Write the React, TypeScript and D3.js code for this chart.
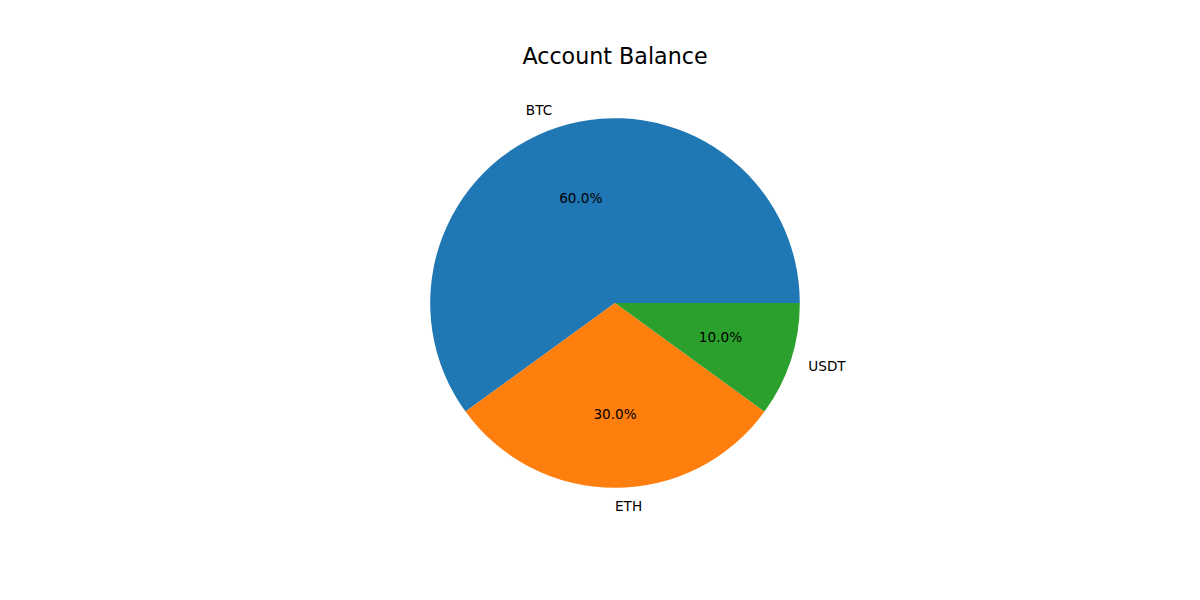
import React, { useEffect, useRef } from 'react';
import * as d3 from 'd3';

// pie data
const labels = ['BTC', 'ETH', 'USDT'];
const values = [60, 30, 10];
const colors = ['#1f77b4', '#ff7f0e', '#2ca02c'];

const App: React.FC = () => {
  const svgRef = useRef<SVGSVGElement>(null);

  useEffect(() => {
    if (!svgRef.current) return;
    document.body.style.margin = '0';

    const svg = d3.select(svgRef.current);
    svg.selectAll('*').remove();

    const width = 1200;
    const height = 600;
    // matplotlib-like axes box: top 72, bottom 534
    const cx = 615;
    const cy = 303;
    const radius = 184.8;
    const font = 'DejaVu Sans, sans-serif';

    const total = d3.sum(values);
    const data = labels.map((l, i) => ({ label: l, value: values[i], color: colors[i] }));

    // start at 3 o'clock, go counter-clockwise
    const pie = d3.pie<{ label: string; value: number; color: string }>()
      .value(d => d.value)
      .sort(null)
      .startAngle(Math.PI / 2)
      .endAngle(Math.PI / 2 - 2 * Math.PI);

    const arcs = pie(data);

    const arc = d3.arc<d3.PieArcDatum<any>>().innerRadius(0).outerRadius(radius);
    const labelArc = d3.arc<d3.PieArcDatum<any>>().innerRadius(radius * 1.1).outerRadius(radius * 1.1);
    const pctArc = d3.arc<d3.PieArcDatum<any>>().innerRadius(radius * 0.6).outerRadius(radius * 0.6);

    svg.append('rect').attr('width', width).attr('height', height).attr('fill', '#fff');

    const g = svg.append('g').attr('transform', `translate(${cx},${cy})`);

    g.selectAll('.slice')
      .data(arcs)
      .enter()
      .append('path')
      .attr('class', 'slice')
      .attr('d', d => arc(d) as string)
      .attr('fill', d => d.data.color);

    g.selectAll('.label')
      .data(arcs)
      .enter()
      .append('text')
      .attr('class', 'label')
      .attr('x', d => labelArc.centroid(d)[0])
      .attr('y', d => labelArc.centroid(d)[1])
      .attr('dominant-baseline', 'central')
      .attr('text-anchor', d => (labelArc.centroid(d)[0] > -1e-6 ? 'start' : 'end'))
      .attr('font-family', font)
      .attr('font-size', '13.6px')
      .attr('fill', '#000')
      .text(d => d.data.label);

    g.selectAll('.pct')
      .data(arcs)
      .enter()
      .append('text')
      .attr('class', 'pct')
      .attr('x', d => pctArc.centroid(d)[0])
      .attr('y', d => pctArc.centroid(d)[1])
      .attr('dominant-baseline', 'central')
      .attr('text-anchor', 'middle')
      .attr('font-family', font)
      .attr('font-size', '13.6px')
      .attr('fill', '#000')
      .text(d => `${((d.data.value / total) * 100).toFixed(1)}%`);

    svg.append('text')
      .attr('x', cx)
      .attr('y', 64)
      .attr('text-anchor', 'middle')
      .attr('font-family', font)
      .attr('font-size', '22.2px')
      .attr('fill', '#000')
      .text('Account Balance');
  }, []);

  return <svg ref={svgRef} width={1200} height={600} style={{ display: 'block' }} />;
};

export default App;
